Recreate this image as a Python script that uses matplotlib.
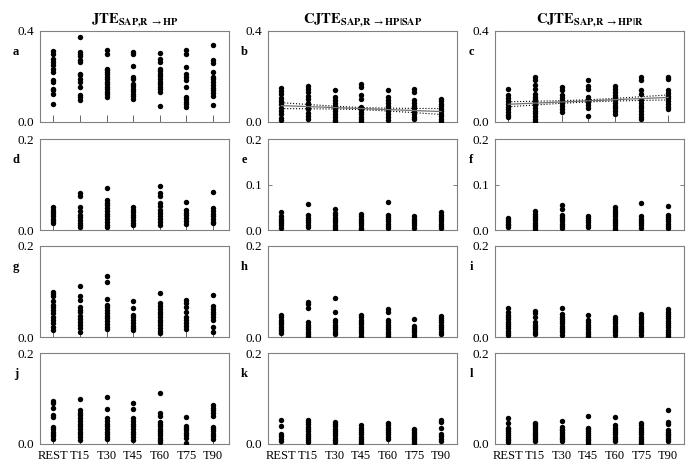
# te_strips.py
import numpy as np
import matplotlib
matplotlib.use("Agg")
import matplotlib.pyplot as plt

plt.rcParams["font.family"] = ["Liberation Serif", "DejaVu Serif"]
plt.rcParams["mathtext.fontset"] = "stix"

categories = ["REST", "T15", "T30", "T45", "T60", "T75", "T90"]

titles = [r"$\mathbf{JTE}_{\mathbf{SAP{,}R}\ \rightarrow\mathbf{HP}}$",
          r"$\mathbf{CJTE}_{\mathbf{SAP{,}R}\ \rightarrow\mathbf{HP|SAP}}$",
          r"$\mathbf{CJTE}_{\mathbf{SAP{,}R}\ \rightarrow\mathbf{HP|R}}$"]

letters = ["a", "b", "c", "d", "e", "f", "g", "h", "i", "j", "k", "l"]

# y-axis top per row
row_ymax = [0.4, 0.2, 0.2, 0.2]

# values per subject, one list per time point
panel_a = [
    [0.313, 0.301, 0.279, 0.265, 0.25, 0.235, 0.221, 0.184, 0.176, 0.147, 0.14, 0.125, 0.081],
    [0.372, 0.309, 0.299, 0.29, 0.272, 0.265, 0.213, 0.206, 0.191, 0.176, 0.154, 0.118, 0.11, 0.096],
    [0.316, 0.301, 0.235, 0.228, 0.221, 0.21, 0.199, 0.187, 0.176, 0.166, 0.154, 0.143, 0.132, 0.121, 0.11],
    [0.309, 0.299, 0.246, 0.199, 0.187, 0.169, 0.157, 0.147, 0.137, 0.125, 0.113, 0.103],
    [0.304, 0.279, 0.265, 0.235, 0.225, 0.213, 0.201, 0.19, 0.178, 0.166, 0.154, 0.143, 0.132, 0.069],
    [0.316, 0.301, 0.243, 0.21, 0.199, 0.184, 0.154, 0.11, 0.099, 0.088, 0.078, 0.066],
    [0.338, 0.272, 0.26, 0.221, 0.199, 0.187, 0.175, 0.163, 0.151, 0.14, 0.128, 0.116, 0.074],
]
panel_b = [
    [0.15, 0.137, 0.122, 0.107, 0.093, 0.078, 0.063, 0.049, 0.034, 0.019, 0.007],
    [0.157, 0.145, 0.13, 0.115, 0.1, 0.085, 0.07, 0.055, 0.04, 0.025, 0.015],
    [0.14, 0.11, 0.097, 0.085, 0.072, 0.06, 0.047, 0.035, 0.022, 0.01, 0.004],
    [0.165, 0.152, 0.118, 0.103, 0.066, 0.055, 0.044, 0.033, 0.022, 0.011, 0.004],
    [0.14, 0.11, 0.097, 0.085, 0.072, 0.06, 0.048, 0.035, 0.022, 0.01],
    [0.147, 0.132, 0.096, 0.084, 0.072, 0.06, 0.048, 0.036, 0.024, 0.012],
    [0.103, 0.092, 0.081, 0.07, 0.059, 0.048, 0.037, 0.026, 0.015, 0.004],
]
panel_c = [
    [0.143, 0.118, 0.105, 0.092, 0.08, 0.068, 0.056, 0.044, 0.032, 0.02],
    [0.196, 0.184, 0.162, 0.147, 0.125, 0.112, 0.1, 0.088, 0.075, 0.063, 0.05, 0.038, 0.025, 0.013, 0.004],
    [0.154, 0.14, 0.118, 0.106, 0.094, 0.082, 0.07, 0.058, 0.046],
    [0.184, 0.157, 0.143, 0.11, 0.098, 0.086, 0.074, 0.062, 0.025],
    [0.157, 0.145, 0.132, 0.12, 0.108, 0.096, 0.084, 0.072, 0.06, 0.048, 0.035],
    [0.196, 0.184, 0.14, 0.125, 0.096, 0.084, 0.072, 0.06, 0.048, 0.036, 0.024, 0.012],
    [0.198, 0.187, 0.14, 0.128, 0.116, 0.104, 0.092, 0.08, 0.068, 0.056],
]
panel_d = [
    [0.05, 0.045, 0.04, 0.035, 0.03, 0.025, 0.02, 0.015],
    [0.082, 0.075, 0.05, 0.042, 0.033, 0.028, 0.022, 0.016, 0.011, 0.007],
    [0.093, 0.066, 0.06, 0.054, 0.048, 0.042, 0.036, 0.03, 0.024, 0.018, 0.012, 0.006],
    [0.051, 0.045, 0.04, 0.034, 0.028, 0.022, 0.016, 0.01],
    [0.097, 0.082, 0.075, 0.059, 0.052, 0.045, 0.038, 0.031, 0.024, 0.017, 0.011],
    [0.061, 0.044, 0.038, 0.032, 0.026, 0.02, 0.014],
    [0.084, 0.048, 0.042, 0.036, 0.03, 0.024, 0.018, 0.015],
]
panel_e = [
    [0.039, 0.03, 0.025, 0.02, 0.015, 0.01, 0.005],
    [0.058, 0.032, 0.027, 0.022, 0.017, 0.012, 0.007],
    [0.047, 0.037, 0.032, 0.027, 0.022, 0.017, 0.012, 0.007, 0.003],
    [0.035, 0.03, 0.025, 0.02, 0.015, 0.01, 0.005, 0.003],
    [0.062, 0.034, 0.029, 0.024, 0.019, 0.014, 0.009, 0.005],
    [0.03, 0.025, 0.02, 0.015, 0.01, 0.005],
    [0.04, 0.034, 0.029, 0.024, 0.019, 0.014, 0.009, 0.004],
]
panel_f = [
    [0.026, 0.022, 0.018, 0.014, 0.01, 0.006],
    [0.041, 0.036, 0.031, 0.026, 0.021, 0.016, 0.011, 0.006, 0.002],
    [0.056, 0.047, 0.034, 0.029, 0.024, 0.019, 0.014, 0.009, 0.005],
    [0.031, 0.027, 0.022, 0.017, 0.012, 0.007],
    [0.05, 0.045, 0.04, 0.035, 0.03, 0.025, 0.02, 0.015, 0.01, 0.005, 0.001],
    [0.059, 0.03, 0.025, 0.02, 0.015, 0.01, 0.005],
    [0.053, 0.034, 0.029, 0.024, 0.019, 0.014, 0.009, 0.005],
]
panel_g = [
    [0.1, 0.095, 0.09, 0.08, 0.07, 0.065, 0.06, 0.052, 0.045, 0.038, 0.03, 0.022, 0.016],
    [0.113, 0.09, 0.081, 0.066, 0.06, 0.054, 0.047, 0.04, 0.033, 0.026, 0.019, 0.012],
    [0.135, 0.12, 0.084, 0.071, 0.065, 0.059, 0.053, 0.047, 0.041, 0.035, 0.029, 0.023, 0.018],
    [0.079, 0.063, 0.049, 0.043, 0.037, 0.031, 0.025, 0.019, 0.015],
    [0.096, 0.074, 0.068, 0.062, 0.056, 0.05, 0.044, 0.038, 0.032, 0.026, 0.02, 0.014, 0.009],
    [0.081, 0.075, 0.065, 0.055, 0.045, 0.038, 0.031, 0.024, 0.017],
    [0.093, 0.068, 0.062, 0.056, 0.05, 0.044, 0.038, 0.022, 0.012],
]
panel_h = [
    [0.048, 0.043, 0.038, 0.033, 0.028, 0.023, 0.018, 0.013, 0.008],
    [0.076, 0.072, 0.063, 0.032, 0.027, 0.022, 0.017, 0.012, 0.007, 0.003],
    [0.085, 0.056, 0.037, 0.032, 0.027, 0.022, 0.017, 0.012, 0.007],
    [0.048, 0.043, 0.038, 0.033, 0.028, 0.023, 0.018, 0.013, 0.008, 0.003],
    [0.062, 0.056, 0.037, 0.032, 0.027, 0.022, 0.017, 0.012, 0.007, 0.003],
    [0.04, 0.025, 0.02, 0.015, 0.01, 0.005, 0.001],
    [0.047, 0.042, 0.037, 0.032, 0.027, 0.022, 0.017, 0.012, 0.007],
]
panel_i = [
    [0.064, 0.054, 0.049, 0.044, 0.039, 0.034, 0.029, 0.024, 0.019, 0.014, 0.009, 0.004],
    [0.057, 0.052, 0.045, 0.032, 0.027, 0.022, 0.017, 0.012, 0.007],
    [0.064, 0.05, 0.045, 0.04, 0.035, 0.03, 0.025, 0.02, 0.015, 0.01, 0.005],
    [0.048, 0.037, 0.032, 0.027, 0.022, 0.017, 0.012, 0.007, 0.002],
    [0.045, 0.04, 0.035, 0.03, 0.025, 0.02, 0.015, 0.01, 0.005],
    [0.05, 0.045, 0.04, 0.035, 0.03, 0.025, 0.02, 0.015, 0.01, 0.005],
    [0.061, 0.056, 0.051, 0.046, 0.041, 0.036, 0.031, 0.026, 0.021, 0.016, 0.011, 0.006, 0.002],
]
panel_j = [
    [0.095, 0.09, 0.079, 0.064, 0.06, 0.037, 0.032, 0.027, 0.022, 0.017, 0.012],
    [0.099, 0.075, 0.069, 0.063, 0.057, 0.051, 0.045, 0.039, 0.033, 0.027, 0.021, 0.015, 0.009],
    [0.104, 0.077, 0.057, 0.051, 0.045, 0.039, 0.033, 0.027, 0.021, 0.015, 0.01],
    [0.091, 0.077, 0.057, 0.051, 0.045, 0.039, 0.033, 0.027, 0.021, 0.015, 0.008],
    [0.112, 0.068, 0.062, 0.049, 0.044, 0.039, 0.034, 0.029, 0.024, 0.019, 0.014, 0.009, 0.004],
    [0.059, 0.04, 0.035, 0.03, 0.025, 0.02, 0.014, 0.002],
    [0.086, 0.08, 0.074, 0.068, 0.062, 0.038, 0.033, 0.028, 0.023, 0.018, 0.012],
]
panel_k = [
    [0.052, 0.039, 0.022, 0.017, 0.012, 0.007],
    [0.053, 0.048, 0.043, 0.038, 0.033, 0.028, 0.023, 0.018, 0.013, 0.008, 0.004],
    [0.049, 0.044, 0.039, 0.034, 0.029, 0.024, 0.019, 0.014, 0.009, 0.004],
    [0.041, 0.036, 0.031, 0.026, 0.021, 0.016, 0.011, 0.006, 0.002],
    [0.046, 0.041, 0.036, 0.031, 0.026, 0.021, 0.016, 0.01],
    [0.034, 0.03, 0.026, 0.022, 0.018, 0.014, 0.01, 0.006, 0.002],
    [0.052, 0.048, 0.035, 0.022, 0.017, 0.012, 0.007],
]
panel_l = [
    [0.057, 0.047, 0.036, 0.032, 0.028, 0.024, 0.02, 0.016, 0.012, 0.008, 0.004],
    [0.047, 0.043, 0.039, 0.035, 0.031, 0.027, 0.023, 0.019, 0.015, 0.011, 0.007],
    [0.051, 0.038, 0.034, 0.03, 0.026, 0.022, 0.018, 0.014, 0.01, 0.006],
    [0.062, 0.036, 0.032, 0.028, 0.024, 0.02, 0.016, 0.012, 0.008, 0.004, 0.001],
    [0.06, 0.041, 0.036, 0.031, 0.026, 0.021, 0.016, 0.011, 0.006],
    [0.046, 0.042, 0.036, 0.031, 0.026, 0.021, 0.016, 0.011, 0.006, 0.002],
    [0.074, 0.049, 0.044, 0.031, 0.027, 0.023, 0.019, 0.015, 0.011, 0.007],
]

panels = [panel_a, panel_b, panel_c, panel_d, panel_e, panel_f,
          panel_g, panel_h, panel_i, panel_j, panel_k, panel_l]

# linear trend over time (fitted value at REST and T90) and CI half-width (centre, ends)
trend_b = [0.072, 0.046]
band_b = [0.005, 0.013]
trend_c = [0.078, 0.108]
band_c = [0.005, 0.011]

col_left = [40, 268, 495]
row_top = [31, 139, 246, 353]
ax_w, ax_h = 189, 91
W, H = 700, 472


def draw_trend(ax, trend, band):
    x = np.linspace(1, 7, 60)
    fit = trend[0] + (trend[1] - trend[0]) * (x - 1) / 6
    half = np.sqrt(band[0] ** 2 + (band[1] ** 2 - band[0] ** 2) * ((x - 4) / 3) ** 2)
    ax.plot(x, fit, color="0.45", lw=0.9, zorder=4)
    ax.plot(x, fit + half, color="black", lw=0.8, ls=":", zorder=4)
    ax.plot(x, fit - half, color="black", lw=0.8, ls=":", zorder=4)


fig = plt.figure(figsize=(W / 100, H / 100), dpi=100)
xpos = np.arange(1, len(categories) + 1)

for i, data in enumerate(panels):
    r, c = divmod(i, 3)
    ax = fig.add_axes([col_left[c] / W, 1 - (row_top[r] + ax_h) / H, ax_w / W, ax_h / H])
    for k, vals in enumerate(data):
        ax.plot([xpos[k]] * len(vals), vals, "o", color="black", ms=3.9, mew=0, zorder=3)

    ymax = row_ymax[r]
    ax.set_ylim(0, ymax)
    ax.set_xlim(0.5, 7.6)
    if letters[i] in ("e", "f"):
        ax.set_yticks([0, ymax / 2, ymax])
        ax.set_yticklabels(["0.0", "0.1", "0.2"])
    else:
        ax.set_yticks([0, ymax])
        ax.set_yticklabels(["0.0", "%.1f" % ymax])
    ax.set_xticks(xpos)
    if r == 3:
        ax.set_xticklabels(categories, fontsize=9)
    else:
        ax.set_xticklabels([])
    ax.tick_params(axis="x", direction="in", length=5, width=0.6, color="0.3", pad=4)
    ax.tick_params(axis="y", direction="in", length=3, width=0.6, color="0.4", right=True,
                   labelsize=9.5, pad=4)
    for s in ax.spines.values():
        s.set_color("0.5")
        s.set_linewidth(0.8)

    ax.text(-24 / ax_w, 0.77, letters[i], transform=ax.transAxes, fontsize=9,
            fontweight="bold", ha="center", va="center")
    if r == 0:
        ax.set_title(titles[c], fontsize=10.5, pad=6)

    if letters[i] == "b":
        draw_trend(ax, trend_b, band_b)
    if letters[i] == "c":
        draw_trend(ax, trend_c, band_c)

plt.savefig("out.png", dpi=100)
